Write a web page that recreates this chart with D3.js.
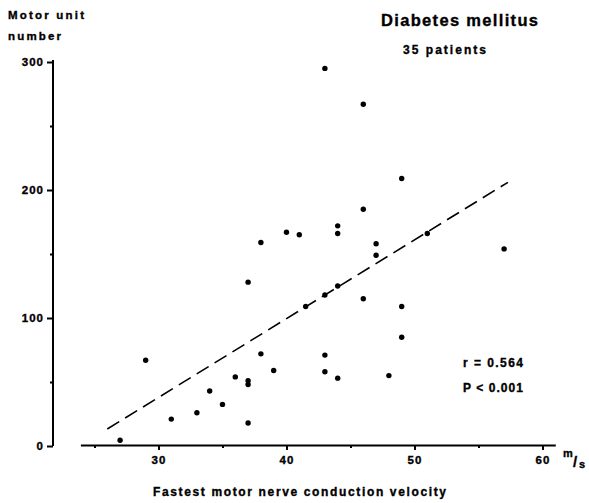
<!DOCTYPE html>
<html>
<head>
<meta charset="utf-8">
<script src="https://cdn.jsdelivr.net/npm/d3@7"></script>
<style>
  body { margin: 0; background: #fff; }
  svg text { font-family: "Liberation Sans", Arial, sans-serif; font-weight: bold; fill: #000; stroke: #000; stroke-width: 0.35; }
  .axis path, .axis line { stroke: #000; stroke-width: 2; }
  .axis text { font-size: 11.5px; font-family: "Liberation Sans", Arial, sans-serif; font-weight: bold; }
</style>
</head>
<body>
<div class="chart"></div>
<script>
// velocity (m/s) and motor unit number, one entry per patient
const velocity = [27, 29, 31, 33, 34, 35, 36, 37, 37, 37, 38, 39,
  46, 44, 44, 40, 41, 38, 47, 47, 37, 46, 44, 43, 41.5, 49, 49,
  43, 43, 44, 48, 43, 46, 49, 51, 57];
const motorUnits = [4.5, 67, 21, 26, 43, 32.5, 54, 51, 48, 18, 72, 59,
  185, 172, 166, 167, 165, 159, 158, 149, 128, 115, 125, 118, 109, 109, 85,
  71, 58, 53, 55, 295, 267, 209, 166, 154];

// regression line end points [velocity, motor units]
const regressionX = [26, 57.3];
const regressionY = [13.3, 206];

const xMajorTicks = [30, 40, 50, 60];
const xMinorTicks = [25, 35, 45, 55];
const yMajorTicks = [0, 100, 200, 300];
const yMinorTicks = [50, 150, 250];

const width = 589, height = 503;

const svg = d3.select(".chart").append("svg")
  .attr("width", width)
  .attr("height", height);

/* scales */
const xScale = d3.scaleLinear().domain([23.9, 61]).range([80.4, 555.3]);
const yScale = d3.scaleLinear().domain([0, 300]).range([446, 62]);

/* x axis */
svg.append("g")
  .attr("class", "axis")
  .attr("transform", "translate(0,445)")
  .call(d3.axisBottom(xScale).tickValues(xMajorTicks).tickSize(5).tickSizeOuter(0).tickPadding(4))
  .call(g => g.selectAll("text").attr("dy", "0.9em").attr("letter-spacing", "1px"));

svg.append("g")
  .attr("class", "axis")
  .attr("transform", "translate(0,445)")
  .call(d3.axisBottom(xScale).tickValues(xMinorTicks).tickSize(3).tickFormat(""))
  .call(g => g.select(".domain").remove());

/* y axis */
svg.append("g")
  .attr("class", "axis")
  .attr("transform", "translate(53,0)")
  .call(d3.axisLeft(yScale).tickValues(yMajorTicks).tickSize(6).tickSizeOuter(0).tickPadding(3))
  .call(g => g.select(".domain").attr("d", `M0,${yScale(0)}V${yScale(300) - 2}`))
  .call(g => g.selectAll("text").attr("letter-spacing", "1px"));

svg.append("g")
  .attr("class", "axis")
  .attr("transform", "translate(53,0)")
  .call(d3.axisLeft(yScale).tickValues(yMinorTicks).tickSize(3).tickFormat(""))
  .call(g => g.select(".domain").remove());

/* regression line */
svg.append("path")
  .datum(regressionX.map((v, i) => [v, regressionY[i]]))
  .attr("d", d3.line().x(d => xScale(d[0])).y(d => yScale(d[1])))
  .attr("fill", "none")
  .attr("stroke", "#000")
  .attr("stroke-width", 1.6)
  .attr("stroke-dasharray", "14,7");

/* points */
svg.append("g")
  .selectAll("circle")
  .data(velocity.map((v, i) => ({v, m: motorUnits[i]})))
  .join("circle")
  .attr("cx", d => xScale(d.v))
  .attr("cy", d => yScale(d.m))
  .attr("r", 2.7)
  .attr("fill", "#000");

/* texts */
svg.append("text").attr("x", 8).attr("y", 19).attr("font-size", 11.5)
  .attr("textLength", 76).attr("lengthAdjust", "spacing").text("Motor  unit");
svg.append("text").attr("x", 8).attr("y", 40).attr("font-size", 11.5)
  .attr("textLength", 53).attr("lengthAdjust", "spacing").text("number");

svg.append("text").attr("x", 381).attr("y", 26).attr("font-size", 16.5)
  .attr("textLength", 157).attr("lengthAdjust", "spacing").text("Diabetes   mellitus");
svg.append("text").attr("x", 403).attr("y", 54).attr("font-size", 12)
  .attr("textLength", 83).attr("lengthAdjust", "spacing").text("35  patients");

svg.append("text").attr("x", 463).attr("y", 367).attr("font-size", 12)
  .attr("textLength", 60).attr("lengthAdjust", "spacing").text("r  =  0.564");
svg.append("text").attr("x", 463).attr("y", 392).attr("font-size", 12)
  .attr("textLength", 60).attr("lengthAdjust", "spacing").text("P <  0.001");

svg.append("text").attr("x", 153).attr("y", 496).attr("font-size", 12)
  .attr("textLength", 293).attr("lengthAdjust", "spacing").text("Fastest  motor  nerve  conduction  velocity");

/* unit m/s */
svg.append("text").attr("x", 563).attr("y", 457).attr("font-size", 11).text("m");
svg.append("text").attr("x", 573).attr("y", 467).attr("font-size", 15)
  .attr("font-weight", "normal").attr("stroke-width", 0.6).text("/");
svg.append("text").attr("x", 579).attr("y", 468).attr("font-size", 11).text("s");
</script>
</body>
</html>
